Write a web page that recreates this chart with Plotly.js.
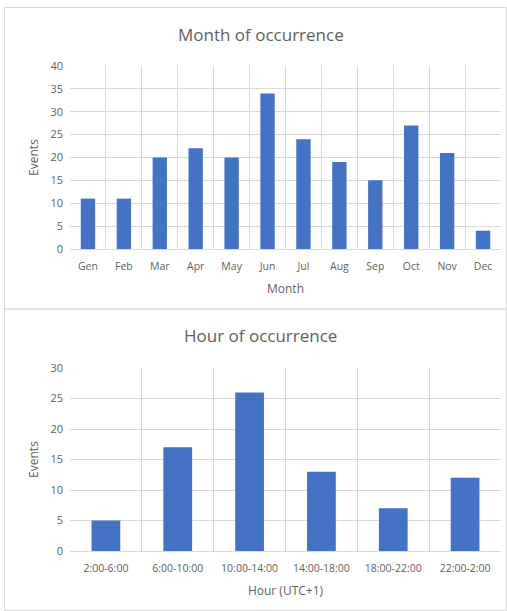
<!DOCTYPE html>
<html>
<head>
<meta charset="utf-8">
<script src="https://cdn.plot.ly/plotly-3.0.1.min.js"></script>
<style>
  html, body { margin: 0; padding: 0; background: #ffffff; }
  #chart { width: 507px; height: 611px; }
</style>
</head>
<body>
<div id="chart"></div>
<script>
// Monthly counts of events
const months = ['Gen', 'Feb', 'Mar', 'Apr', 'May', 'Jun', 'Jul', 'Aug', 'Sep', 'Oct', 'Nov', 'Dec'];
const monthEvents = [11, 11, 20, 22, 20, 34, 24, 19, 15, 27, 21, 4];

// Counts by four-hour slot (local time, UTC+1)
const hourSlots = ['2:00-6:00', '6:00-10:00', '10:00-14:00', '14:00-18:00', '18:00-22:00', '22:00-2:00'];
const hourEvents = [5, 17, 26, 13, 7, 12];

const W = 507, H = 611;
const px = v => v / W;          // horizontal pixel -> paper
const py = v => 1 - v / H;      // vertical pixel -> paper

const barColor = '#4472C4';
const gridColor = '#d9d9d9';
const textColor = '#5f5f5f';
const fontFamily = 'Open Sans, Liberation Sans, sans-serif';

const traces = [
  { type: 'bar', x: months, y: monthEvents, xaxis: 'x', yaxis: 'y',
    marker: { color: barColor }, hoverinfo: 'x+y' },
  { type: 'bar', x: hourSlots, y: hourEvents, xaxis: 'x2', yaxis: 'y2',
    marker: { color: barColor }, hoverinfo: 'x+y' }
];

function xAxis(titleText, anchor) {
  return {
    domain: [px(70), px(501)],
    anchor: anchor,
    type: 'category',
    tickson: 'boundaries',
    showgrid: true, gridcolor: gridColor, gridwidth: 1,
    showline: true, linecolor: gridColor, linewidth: 1,
    ticks: '', zeroline: false,
    ticklabelstandoff: 7,
    tickfont: { family: fontFamily, size: 10.5, color: textColor },
    title: { text: titleText, font: { family: fontFamily, size: 12, color: textColor }, standoff: 13 },
    fixedrange: true
  };
}

function yAxis(top, bottom, maxVal, anchor) {
  return {
    domain: [py(bottom), py(top)],
    anchor: anchor,
    range: [0, maxVal],
    dtick: 5,
    showgrid: true, gridcolor: gridColor, gridwidth: 1,
    showline: false, zeroline: false,
    ticks: '', ticklen: 0,
    ticklabelstandoff: 6,
    tickfont: { family: fontFamily, size: 11, color: textColor },
    title: { text: 'Events', font: { family: fontFamily, size: 12, color: textColor }, standoff: 9 },
    fixedrange: true
  };
}

const layout = {
  width: W, height: H,
  margin: { l: 0, r: 0, t: 0, b: 0 },
  paper_bgcolor: '#ffffff', plot_bgcolor: '#ffffff',
  showlegend: false,
  bargap: 0.6,
  xaxis: xAxis('Month', 'y'),
  yaxis: yAxis(66, 249, 40, 'x'),
  xaxis2: xAxis('Hour (UTC+1)', 'y2'),
  yaxis2: yAxis(368, 551, 30, 'x2'),
  annotations: [
    { text: 'Month of occurrence', xref: 'paper', yref: 'paper',
      x: px(261), y: py(34), xanchor: 'center', yanchor: 'middle', showarrow: false,
      font: { family: fontFamily, size: 17, color: textColor } },
    { text: 'Hour of occurrence', xref: 'paper', yref: 'paper',
      x: px(260), y: py(335), xanchor: 'center', yanchor: 'middle', showarrow: false,
      font: { family: fontFamily, size: 17, color: textColor } }
  ],
  shapes: [
    // outer frame of the two panels
    { type: 'rect', xref: 'paper', yref: 'paper',
      x0: px(4.5), x1: px(506.5), y0: py(610.5), y1: py(7.5),
      line: { color: gridColor, width: 1 }, layer: 'below' },
    // divider between the panels
    { type: 'line', xref: 'paper', yref: 'paper',
      x0: px(4.5), x1: px(506.5), y0: py(309), y1: py(309),
      line: { color: gridColor, width: 1.5 }, layer: 'below' }
  ]
};

Plotly.newPlot('chart', traces, layout, { displayModeBar: false, staticPlot: true });
</script>
</body>
</html>
